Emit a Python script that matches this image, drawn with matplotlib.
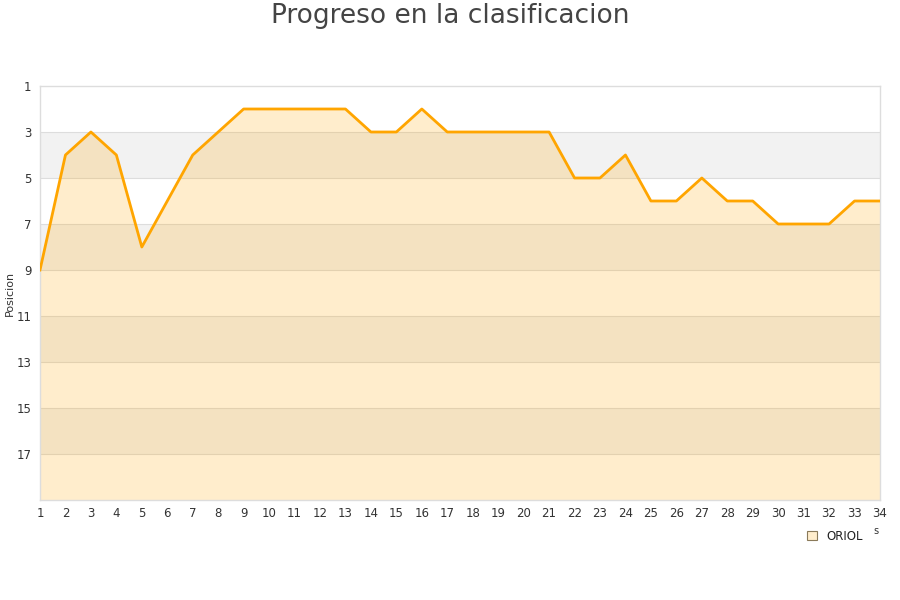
import matplotlib
matplotlib.use("Agg")
import matplotlib.pyplot as plt
from matplotlib.patches import Patch

jornadas = list(range(1, 35))
posicion = [9, 4, 3, 4, 8, 6, 4, 3, 2, 2, 2, 2, 2, 3, 3, 2, 3, 3, 3, 3, 3,
            5, 5, 4, 6, 6, 5, 6, 6, 7, 7, 7, 6, 6]
yticks = [1, 3, 5, 7, 9, 11, 13, 15, 17]
serie = "ORIOL"
titulo = "Progreso en la clasificacion"

fig = plt.figure(figsize=(9, 6), dpi=100)
ax = fig.add_axes([40 / 900, 100 / 600, 840 / 900, 414 / 600])

# alternating bands
for i, lo in enumerate(range(1, 19, 2)):
    if i % 2 == 1:
        ax.axhspan(lo, lo + 2, color="#f2f2f2", zorder=0, lw=0)
for t in yticks[1:]:
    ax.axhline(t, color="#dddddd", lw=0.8, zorder=1)

ax.fill_between(jornadas, posicion, 19, color="#ffa500", alpha=0.2, lw=0, zorder=2)
ax.plot(jornadas, posicion, color="#ffa500", lw=2.0, zorder=3)

ax.set_xlim(1, 34)
ax.set_ylim(19, 1)
ax.set_xticks(jornadas)
ax.set_yticks(yticks)
ax.tick_params(axis="both", length=0, labelsize=8.5, colors="#333333")
ax.tick_params(axis="x", pad=5)
ax.tick_params(axis="y", pad=6)
for s in ax.spines.values():
    s.set_color("#dddddd")
    s.set_linewidth(1)

fig.text(10 / 900, 1 - 293 / 600, "Posicion", rotation=90, ha="center", va="center",
         fontsize=8, color="#333333")

fig.text(0.5, 1 - 16 / 600, titulo, ha="center", va="center", fontsize=19, color="#444444")

handle = Patch(facecolor="#ffedcc", edgecolor="#8a7a5a", lw=0.8)
fig.legend([handle], [serie], loc="center", bbox_to_anchor=(835 / 900, 1 - 536 / 600),
           frameon=False, fontsize=8.5, handlelength=0.8, handleheight=0.8,
           handletextpad=0.8, labelcolor="#222222")
fig.text(876 / 900, 1 - 531 / 600, "s", ha="center", va="center", fontsize=7, color="#333333")

fig.savefig("out.png", dpi=100)
